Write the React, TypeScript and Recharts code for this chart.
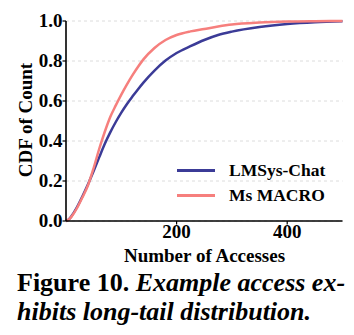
import React from 'react';
import { LineChart, Line, XAxis, YAxis, CartesianGrid, Legend } from 'recharts';

const accesses = [0, 5, 10, 20, 30, 40, 50, 60, 70, 80, 90, 100, 110, 120, 130, 140, 160, 180, 200, 225, 250, 275, 300, 350, 400, 450, 500];
const lmsysChat = [0, 0.008, 0.025, 0.07, 0.125, 0.185, 0.25, 0.318, 0.385, 0.443, 0.495, 0.542, 0.584, 0.622, 0.658, 0.692, 0.752, 0.802, 0.84, 0.874, 0.905, 0.93, 0.947, 0.97, 0.985, 0.994, 0.999];
const msMacro = [0, 0.007, 0.022, 0.065, 0.12, 0.18, 0.265, 0.36, 0.445, 0.52, 0.578, 0.632, 0.682, 0.728, 0.77, 0.808, 0.865, 0.905, 0.93, 0.948, 0.96, 0.972, 0.982, 0.992, 0.997, 0.999, 1.0];
const xTicks = [200, 400];
const yTicks = [0, 0.2, 0.4, 0.6, 0.8, 1.0];

const rows = accesses.map((x, i) => ({ x, lmsys: lmsysChat[i], msmacro: msMacro[i] }));

const SERIF = '"Liberation Serif", "Times New Roman", serif';
const BLUE = '#3b3b97';
const RED = '#f67f7d';

const YTick = (props: any) => (
  <text x={62.5} y={props.y + 6.3} textAnchor="end" fontFamily={SERIF} fontWeight="bold" fontSize={19} fill="#000">
    {Number(props.payload.value).toFixed(1)}
  </text>
);

const XTick = (props: any) => (
  <text x={props.x} y={237.5} textAnchor="middle" fontFamily={SERIF} fontWeight="bold" fontSize={19} fill="#000">
    {props.payload.value}
  </text>
);

const LegendBox = () => (
  <div style={{ fontFamily: SERIF, fontWeight: 'bold', fontSize: 17.5, color: '#000' }}>
    {[
      { name: 'LMSys-Chat', color: BLUE },
      { name: 'Ms MACRO', color: RED },
    ].map((s) => (
      <div key={s.name} style={{ display: 'flex', alignItems: 'center', height: 25 }}>
        <span style={{ display: 'inline-block', width: 38, height: 3, background: s.color, marginRight: 14 }} />
        <span style={{ lineHeight: '25px' }}>{s.name}</span>
      </div>
    ))}
  </div>
);

export default function App() {
  return (
    <div style={{ position: 'absolute', left: 0, top: 0, width: 354, height: 335, background: '#fff' }}>
      <LineChart width={354} height={270} data={rows} margin={{ top: 21, right: 11.5, left: 0, bottom: 0 }}>
        <CartesianGrid horizontal vertical={false} stroke="#dcdcdc" strokeDasharray="3 3" />
        <XAxis
          dataKey="x"
          type="number"
          domain={[0, 500]}
          ticks={xTicks}
          height={49}
          axisLine={{ stroke: '#000', strokeWidth: 1.6 }}
          tickLine={{ stroke: '#000', strokeWidth: 1.2 }}
          tickSize={3.5}
          tick={<XTick />}
          label={{
            content: () => (
              <text x={204.5} y={262} textAnchor="middle" fontFamily={SERIF} fontWeight="bold" fontSize={19} fill="#000">
                Number of Accesses
              </text>
            ),
          }}
        />
        <YAxis
          type="number"
          domain={[0, 1]}
          ticks={yTicks}
          width={66}
          axisLine={{ stroke: '#000', strokeWidth: 1.6 }}
          tickLine={{ stroke: '#000', strokeWidth: 1.2 }}
          tickSize={3.5}
          tick={<YTick />}
          label={{
            content: () => (
              <text x={31.5} y={120} transform="rotate(-90, 31.5, 120)" textAnchor="middle" fontFamily={SERIF} fontWeight="bold" fontSize={19} fill="#000">
                CDF of Count
              </text>
            ),
          }}
        />
        <Legend
          layout="vertical"
          align="center"
          verticalAlign="middle"
          content={<LegendBox />}
          wrapperStyle={{ position: 'absolute', left: 177, top: 158, width: 170, height: 50 }}
        />
        <Line type="monotone" dataKey="lmsys" name="LMSys-Chat" stroke={BLUE} strokeWidth={2.5} dot={false} isAnimationActive={false} />
        <Line type="monotone" dataKey="msmacro" name="Ms MACRO" stroke={RED} strokeWidth={2.5} dot={false} isAnimationActive={false} />
      </LineChart>
      <div
        style={{
          position: 'absolute',
          left: 17,
          top: 267.7,
          fontFamily: SERIF,
          fontWeight: 'bold',
          fontSize: 26,
          lineHeight: '29px',
          color: '#000',
          whiteSpace: 'nowrap',
        }}
      >
        Figure 10. <i>Example access ex-</i>
        <br />
        <i>hibits long-tail distribution.</i>
      </div>
    </div>
  );
}
